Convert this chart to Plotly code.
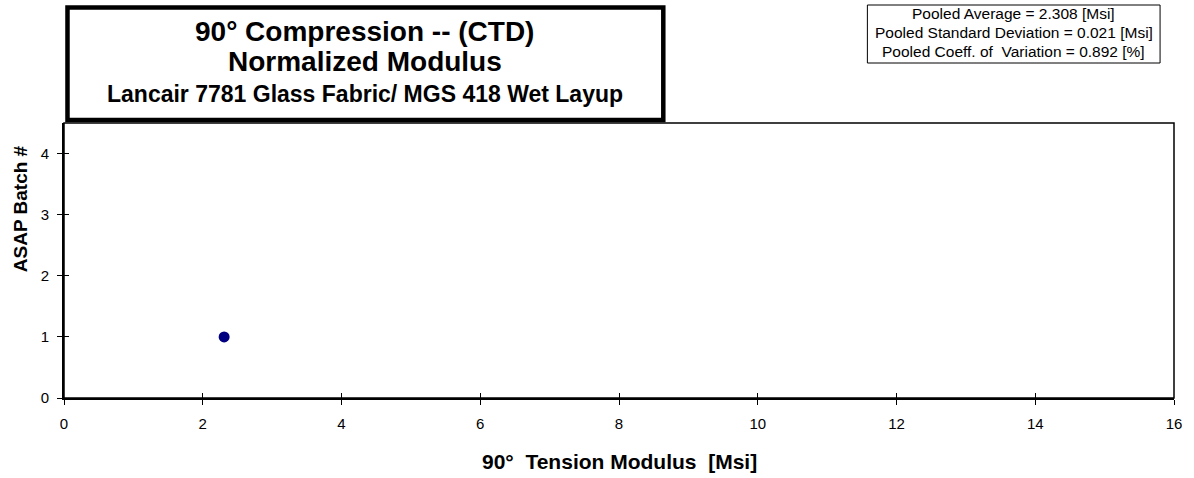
import plotly.graph_objects as go

# Batch data
batch_modulus = [2.308]   # 90° modulus, Msi
batch_number = [1]

x_range = [0, 16]
y_range = [0, 4.5]
x_ticks = [0, 2, 4, 6, 8, 10, 12, 14, 16]
y_ticks = [0, 1, 2, 3, 4]

title_lines = ["90° Compression -- (CTD)", "Normalized Modulus",
               "Lancair 7781 Glass Fabric/ MGS 418 Wet Layup"]
stats_lines = ["Pooled Average = 2.308 [Msi]",
               "Pooled Standard Deviation = 0.021 [Msi]",
               "Pooled Coeff. of  Variation = 0.892 [%]"]
x_title = "90°  Tension Modulus  [Msi]"
y_title = "ASAP Batch #"

FONT = "Liberation Sans, Arial, sans-serif"

W, H = 1194, 478
L, R, T, B = 64, 15, 123, 80
pw, ph = W - L - R, H - T - B


def px(x):
    return (x - L) / pw


def py(y):
    return (H - B - y) / ph


fig = go.Figure()
fig.add_trace(go.Scatter(
    x=batch_modulus, y=batch_number, mode="markers",
    marker=dict(color="#000080", size=11, symbol="circle"),
    showlegend=False, cliponaxis=False))
# empty trace that carries the inward half of the tick marks
fig.add_trace(go.Scatter(x=[], y=[], xaxis="x2", yaxis="y2",
                         showlegend=False, hoverinfo="skip"))

tickfont = dict(family=FONT, size=15, color="black")
fig.update_layout(
    xaxis=dict(range=x_range, tickvals=x_ticks, showgrid=False, zeroline=False,
               showline=True, linecolor="black", linewidth=2,
               ticks="outside", ticklen=5, tickcolor="black", tickwidth=1,
               tickfont=tickfont, ticklabelstandoff=6),
    yaxis=dict(range=y_range, tickvals=y_ticks, showgrid=False, zeroline=False,
               showline=True, linecolor="black", linewidth=2,
               ticks="outside", ticklen=5, tickcolor="black", tickwidth=1,
               tickfont=tickfont, ticklabelstandoff=5),
    xaxis2=dict(range=x_range, tickvals=x_ticks, overlaying="x", side="bottom",
                showgrid=False, zeroline=False, showline=False,
                ticks="inside", ticklen=5, tickcolor="black", tickwidth=1,
                showticklabels=False),
    yaxis2=dict(range=y_range, tickvals=y_ticks, overlaying="y", side="left",
                showgrid=False, zeroline=False, showline=False,
                ticks="inside", ticklen=5, tickcolor="black", tickwidth=1,
                showticklabels=False),
)

shapes = [
    # frame around the plot area
    dict(type="rect", xref="paper", yref="paper", x0=0, x1=1, y0=0, y1=1,
         line=dict(color="black", width=1.5), layer="below"),
    # title box
    dict(type="rect", xref="paper", yref="paper",
         x0=px(67.5), x1=px(666), y0=py(120), y1=py(7.5),
         line=dict(color="black", width=4.5), fillcolor="white", layer="above"),
    # statistics box
    dict(type="rect", xref="paper", yref="paper",
         x0=px(871), x1=px(1165), y0=py(63), y1=py(5),
         line=dict(color="black", width=1), fillcolor="white", layer="above"),
]

annotations = []
title_specs = [(title_lines[0], 31, 28), (title_lines[1], 61, 28), (title_lines[2], 94, 23)]
for text, y, size in title_specs:
    annotations.append(dict(text="<b>%s</b>" % text, xref="paper", yref="paper",
                            x=px(366), y=py(y), showarrow=False,
                            xanchor="center", yanchor="middle",
                            font=dict(family=FONT, size=size, color="black")))
for i, text in enumerate(stats_lines):
    annotations.append(dict(text=text, xref="paper", yref="paper",
                            x=px(1018), y=py(14 + 18.5 * i), showarrow=False,
                            xanchor="center", yanchor="middle",
                            font=dict(family=FONT, size=15.5, color="black")))
annotations.append(dict(text="<b>%s</b>" % x_title, xref="paper", yref="paper",
                        x=px(622), y=py(461), showarrow=False,
                        xanchor="center", yanchor="middle",
                        font=dict(family=FONT, size=21, color="black")))
annotations.append(dict(text="<b>%s</b>" % y_title, xref="paper", yref="paper",
                        x=px(20), y=py(209), showarrow=False, textangle=-90,
                        xanchor="center", yanchor="middle",
                        font=dict(family=FONT, size=19, color="black")))

fig.update_layout(width=W, height=H, margin=dict(l=L, r=R, t=T, b=B),
                  plot_bgcolor="white", paper_bgcolor="white",
                  shapes=shapes, annotations=annotations,
                  font=dict(family=FONT, color="black"))

fig.write_html("out.html")
